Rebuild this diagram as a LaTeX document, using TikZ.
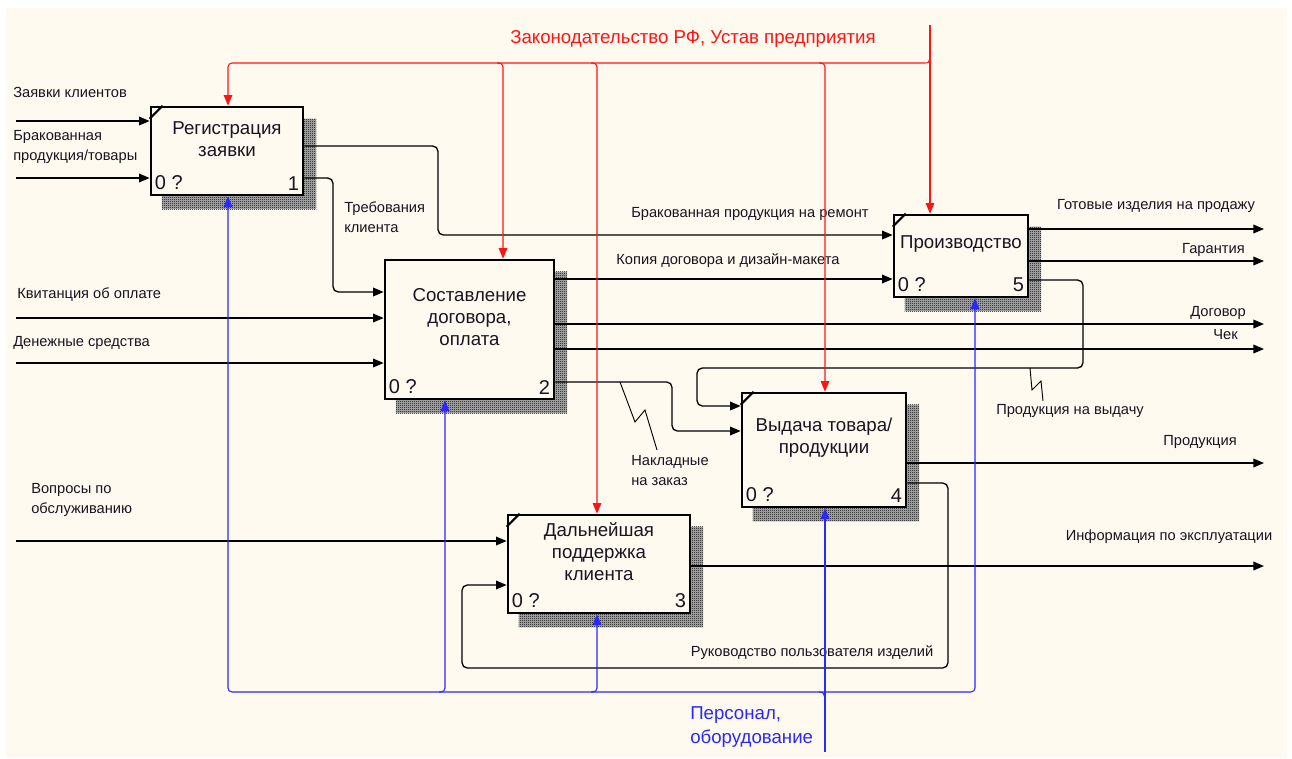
\documentclass[tikz,border=0pt]{standalone}
\usepackage{fontspec}
\setmainfont{Liberation Sans}
\usetikzlibrary{calc,arrows.meta,patterns}
\pgfdeclarelayer{back}
\pgfsetlayers{back,main}
\definecolor{paper}{RGB}{255,250,240}
\definecolor{ctrlred}{RGB}{255,20,20}
\definecolor{mechblue}{RGB}{40,40,255}
\definecolor{ink}{RGB}{25,20,30}
% fine checkerboard used for the box shadows
\pgfdeclarepatternformonly{dither}{\pgfpointorigin}{\pgfqpoint{1.5pt}{1.5pt}}{\pgfqpoint{1.5pt}{1.5pt}}{%
  \pgfpathrectangle{\pgfpointorigin}{\pgfqpoint{0.75pt}{0.75pt}}%
  \pgfpathrectangle{\pgfqpoint{0.75pt}{0.75pt}}{\pgfqpoint{0.75pt}{0.75pt}}%
  \pgfusepath{fill}}
\tikzset{
  abox/.style={draw, line width=2pt, fill=paper, inner sep=0pt},
  ttl/.style={font=\fontsize{14}{16.5}\selectfont, align=center, inner sep=0pt, text=ink},
  num/.style={font=\fontsize{15}{17}\selectfont, inner sep=0pt, text=ink},
  lbl/.style={font=\fontsize{11}{15}\selectfont, inner sep=0pt, text=ink},
  flow/.style={line width=1pt, rounded corners=4pt},
  arr/.style={flow, -{Triangle[length=8pt,width=6.5pt]}},
  ctrl/.style={draw=ctrlred, line width=0.8pt, rounded corners=3pt},
  ctrlarr/.style={ctrl, -{Triangle[length=8pt,width=6.5pt]}},
  mech/.style={draw=mechblue, line width=0.8pt, rounded corners=3pt},
  mecharr/.style={mech, -{Triangle[length=8pt,width=6.5pt]}},
  squig/.style={line width=0.7pt},
  shade/.style={fill=black!30, postaction={pattern=dither, pattern color=black}},
}
\begin{document}
\begin{tikzpicture}[x=0.75pt,y=-0.75pt]
\useasboundingbox (0,0) rectangle (1292,758);
\begin{pgfonlayer}{back}
  \fill[white] (0,0) rectangle (1292,758);
  \fill[paper] (6,8) rectangle (1287,758);
\end{pgfonlayer}

% activity boxes
\node[abox, minimum width=152*0.75pt, minimum height=88*0.75pt]  (b1) at (227,151) {};
\node[abox, minimum width=169*0.75pt, minimum height=139*0.75pt] (b2) at (469.5,329.5) {};
\node[abox, minimum width=182*0.75pt, minimum height=98*0.75pt]  (b3) at (599,564) {};
\node[abox, minimum width=164*0.75pt, minimum height=114*0.75pt] (b4) at (824,450) {};
\node[abox, minimum width=134*0.75pt, minimum height=82*0.75pt]  (b5) at (961,256) {};

\begin{pgfonlayer}{back}
  \foreach \b in {b1,b2,b3,b4,b5}
    \path[shade]
      ($(\b.north west)+(12,13)$) rectangle ($(\b.south east)+(12,13)$);
\end{pgfonlayer}

\foreach \b in {b1,b3,b4,b5}
  \draw[line width=1.5pt] ($(\b.north west)+(0,13)$) -- ($(\b.north west)+(13,0)$);

% box titles
\node[ttl] (t1) at ($(b1)+(0,-12)$) {Регистрация\\заявки};
\node[ttl] (t2) at ($(b2)+(0,-12)$) {Составление\\договора,\\оплата};
\node[ttl] (t3) at ($(b3)+(0,-12)$) {Дальнейшая\\поддержка\\клиента};
\node[ttl] (t4) at ($(b4)+(0,-12)$) {Выдача товара/\\продукции};
\node[ttl] (t5) at ($(b5)+(0,-12)$) {Производство};

% box numbers
\foreach \b/\n in {b1/1,b2/2,b3/3,b4/4,b5/5}{
  \node[num, anchor=south west] at ($(\b.south west)+(5,-6)$) {0 ?};
  \node[num, anchor=south east] at ($(\b.south east)+(-5,-6)$) {\n};
}

% inputs from outside
\coordinate (inZ) at (16,121);
\coordinate (inB) at (16,178);
\coordinate (inK) at (16,318);
\coordinate (inD) at (16,363);
\coordinate (inV) at (16,541);
\draw[arr] (inZ) -- (b1.west |- inZ);
\draw[arr] (inB) -- (b1.west |- inB);
\draw[arr] (inK) -- (b2.west |- inK);
\draw[arr] (inD) -- (b2.west |- inD);
\draw[arr] (inV) -- (b3.west |- inV);
\node[lbl, anchor=west] (lZ) at (13,92) {Заявки клиентов};
\node[lbl, anchor=west, align=left] (lB) at (13,147) {Бракованная\\продукция/товары};
\node[lbl, anchor=west] (lK) at (17,295) {Квитанция об оплате};
\node[lbl, anchor=west] (lD) at (13,343) {Денежные средства};
\node[lbl, anchor=west, align=left] (lV) at (31,500) {Вопросы по\\обслуживанию};

% flows between boxes
\draw[arr] (b1.east |- 0,178) -- (333,178) -- (333,292) -- (b2.west |- 0,292);
\node[lbl, anchor=west, align=left] (lT) at (344,217) {Требования\\клиента};

\draw[arr] (b1.east |- 0,146) -- (438,146) -- (438,235) -- (b5.west |- 0,235);
\node[lbl] (lR) at (750,214) {Бракованная продукция на ремонт};

\draw[arr] (b2.east |- 0,279) -- (b5.west |- 0,279);
\node[lbl] (lC) at (728,261) {Копия договора и дизайн-макета};

\draw[arr] (b2.east |- 0,382) -- (672,382) -- (672,431) -- (b4.west |- 0,431);
\draw[squig] (620,382) -- (635,422) -- (645,410) -- (657,450);
\node[lbl, anchor=west, align=left] (lN) at (631,471) {Накладные\\на заказ};

\draw[arr] (b5.east |- 0,280) -- (1083,280) -- (1083,368) -- (697,368) -- (697,406) -- (b4.west |- 0,406);
\draw[squig] (1030,368) -- (1032,390) -- (1041,381) -- (1043,401);
\node[lbl] (lP) at (1070,411) {Продукция на выдачу};

\draw[arr] (b4.east |- 0,483) -- (948,483) -- (948,668) -- (462,668) -- (462,585) -- (b3.west |- 0,585);
\node[lbl] (lU) at (812,653) {Руководство пользователя изделий};

% outputs to the outside
\coordinate (oG) at (1264,229);
\coordinate (oW) at (1264,261);
\coordinate (oDg) at (1264,324);
\coordinate (oCh) at (1264,349);
\coordinate (oPr) at (1264,463);
\coordinate (oI) at (1264,566);
\draw[arr] (b5.east |- oG) -- (oG);
\draw[arr] (b5.east |- oW) -- (oW);
\draw[arr] (b2.east |- oDg) -- (oDg);
\draw[arr] (b2.east |- oCh) -- (oCh);
\draw[arr] (b4.east |- oPr) -- (oPr);
\draw[arr] (b3.east |- oI) -- (oI);
\node[lbl] (lG) at (1156,206) {Готовые изделия на продажу};
\node[lbl, anchor=east] (lW) at (1245,250) {Гарантия};
\node[lbl, anchor=east] (lDg) at (1246,313) {Договор};
\node[lbl, anchor=east] (lCh) at (1238,335) {Чек};
\node[lbl] (lPr) at (1200,442) {Продукция};
\node[lbl] (lI) at (1169,537) {Информация по эксплуатации};

% controls
\coordinate (cTop) at (930,25);
\draw[ctrlarr] (cTop) -- (b5.north -| cTop);
\draw[ctrl] (924,63) .. controls (929,63) .. (930,56);
\draw[ctrlarr] (924,63) -- (228,63) -- (b1.north -| 228,0);
\draw[ctrlarr] (497,63) -- (503,63) -- (b2.north -| 503,0);
\draw[ctrlarr] (591,63) -- (597,63) -- (b3.north -| 597,0);
\draw[ctrlarr] (819,63) -- (825,63) -- (b4.north -| 825,0);
\node[font=\fontsize{14}{16}\selectfont, text=ctrlred, inner sep=0pt] (lL) at (693,39) {Законодательство РФ, Устав предприятия};

% mechanisms
\coordinate (mBot) at (825,752);
\draw[mecharr] (mBot) -- (b4.south -| mBot);
\draw[mech] (819,692) .. controls (823,692) .. (825,698);
\draw[mech, {Triangle[length=8pt,width=6.5pt]}-{Triangle[length=8pt,width=6.5pt]}]
  (b1.south -| 228,0) -- (228,692) -- (975,692) -- (b5.south -| 975,0);
\draw[mecharr] (439,692) -- (445,692) -- (b2.south -| 445,0);
\draw[mecharr] (591,692) -- (597,692) -- (b3.south -| 597,0);
\node[font=\fontsize{14}{17.5}\selectfont, text=mechblue, inner sep=0pt, align=left, anchor=west] (lM) at (690,727) {Персонал,\\оборудование};
\end{tikzpicture}
\end{document}
